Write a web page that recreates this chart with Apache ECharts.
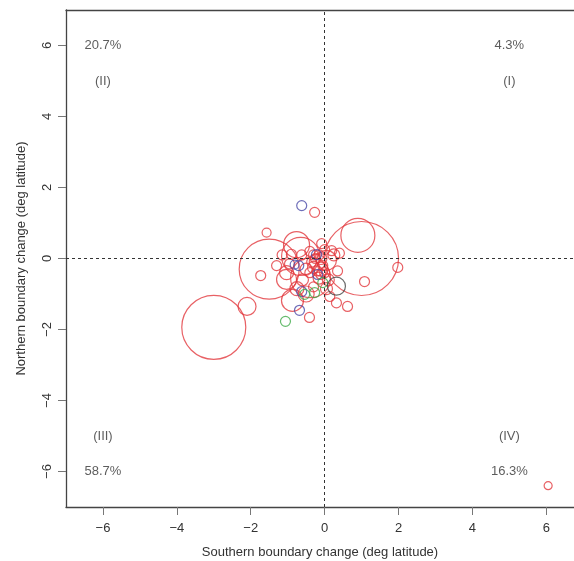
<!DOCTYPE html>
<html>
<head>
<meta charset="utf-8">
<script src="https://cdn.jsdelivr.net/npm/echarts@6/dist/echarts.min.js"></script>
<style>html,body{margin:0;padding:0;background:#fff;overflow:hidden}#c{width:574px;height:561px}</style>
</head>
<body>
<div id="c"></div>
<script>
// Data: [southern change, northern change, range weight]
const redPts = [
  [-3.0,-1.94,32],[-1.5,-0.3,30],[1.0,0.0,37],[0.9,0.65,17],[6.05,-6.4,4],
  [-0.27,1.3,5],[-1.57,0.73,4.5],[1.98,-0.25,5],[1.08,-0.65,5],[-1.73,-0.48,5],
  [-2.1,-1.35,9],[-0.41,-1.66,5],[0.62,-1.35,5],[0.32,-1.25,5],[0.14,-1.07,5],
  [-0.76,0.39,13],[-0.65,0.06,19],[-0.38,-0.54,20],[-0.87,-1.18,11],[-1.03,-0.59,10],
  [-1.03,-0.4,7],[-1.15,0.1,5],[-0.9,0.12,5],[-0.62,0.1,5],[-0.4,0.2,5],
  [0.19,0.22,5],[0.0,0.25,5],[-0.08,0.42,5],[0.05,-0.05,10],[0.35,-0.35,5],
  [0.25,0.1,6],[-0.2,-0.1,8],[-0.3,-0.25,6],[-0.1,-0.3,7],[-0.5,-0.3,6],
  [-0.15,-0.55,6],[0.1,-0.6,6],[-0.25,0.0,5],[-0.05,-0.2,5],[-0.35,-0.1,5],
  [-0.15,0.1,5],[-0.6,-0.6,6],[-0.75,-0.85,7],[-0.3,-0.8,5],[0.05,-0.85,6],
  [-0.5,-1.0,8],[-1.3,-0.2,5],[-0.95,-0.15,5],[0.4,0.15,5],[-0.1,-0.45,5],
  [-0.2,-0.35,5],[0.0,-0.4,5],[-0.4,-0.4,5],[-0.1,0.0,6],[-0.3,0.1,5]
];
const bluePts = [
  [-0.62,1.49,5],[-0.22,0.11,5],[-0.19,-0.45,5],[-0.7,-0.2,5],[-0.81,-0.17,4.5],
  [-0.62,-0.93,5],[-0.68,-1.46,5]
];
const greenPts = [
  [-1.06,-1.77,5],[-0.27,-0.96,5],[-0.54,-1.01,5],[-0.05,-0.68,5]
];
const blackPts = [
  [0.32,-0.78,9]
];
const tickValues = [-6,-4,-2,0,2,4,6];
const quadPos = [[-6,6],[-6,5],[5,6],[5,5],[-6,-5],[-6,-6],[5,-5],[5,-6]];
const quadText = ['20.7%','(II)','4.3%','(I)','(III)','58.7%','(IV)','16.3%'];

const FONT = 'Liberation Sans, Arial, sans-serif';
const sizeFn = v => 2 * v[2];
function bubble(data, color) {
  return {
    type: 'scatter', data: data, symbol: 'circle', symbolSize: sizeFn,
    itemStyle: { color: 'rgba(0,0,0,0)', borderColor: color, borderWidth: 1.2 },
    emphasis: { disabled: true }, silent: true, z: 3
  };
}
const fmt = v => String(v).replace('-', '\u2212');
const boxLine = { show: true, onZero: false, lineStyle: { color: '#444', width: 1.3 } };
const chart = echarts.init(document.getElementById('c'), null, { renderer: 'canvas' });
chart.setOption({
  animation: false,
  grid: { left: 66, top: 10, right: 0, bottom: 54, show: false, containLabel: false, outerBoundsMode: 'none' },
  xAxis: [{
    type: 'value', min: -7, max: 6.75, position: 'bottom',
    name: 'Southern boundary change (deg latitude)', nameLocation: 'middle', nameGap: 39,
    nameTextStyle: { fontFamily: FONT, fontSize: 13, color: '#333' },
    axisLine: boxLine,
    axisTick: { show: true, length: 8, customValues: tickValues, lineStyle: { color: '#777' } },
    axisLabel: { customValues: tickValues, margin: 15, fontFamily: FONT, fontSize: 13, color: '#333', formatter: fmt },
    splitLine: { show: false }
  }, {
    type: 'value', min: -7, max: 6.75, position: 'top',
    axisLine: boxLine,
    axisTick: { show: false }, axisLabel: { show: false }, splitLine: { show: false }
  }],
  yAxis: {
    type: 'value', min: -7, max: 7,
    name: 'Northern boundary change (deg latitude)', nameLocation: 'middle', nameGap: 38,
    nameTextStyle: { fontFamily: FONT, fontSize: 13, color: '#333' },
    axisLine: boxLine,
    axisTick: { show: true, length: 8, customValues: tickValues, lineStyle: { color: '#777' } },
    axisLabel: { customValues: tickValues, rotate: 90, margin: 12, fontFamily: FONT, fontSize: 13, color: '#333', formatter: fmt },
    splitLine: { show: false }
  },
  series: [
    {
      type: 'scatter', data: quadPos.map((p, i) => ({ value: p, name: quadText[i] })),
      symbolSize: 1, itemStyle: { color: 'rgba(0,0,0,0)' }, silent: true, z: 2,
      label: { show: true, position: 'inside', formatter: p => p.name, fontFamily: FONT, fontSize: 13, color: '#333' },
      markLine: {
        silent: true, symbol: 'none', label: { show: false },
        lineStyle: { color: '#333', type: [3, 3], width: 1 },
        data: [{ xAxis: 0 }, { yAxis: 0 }]
      }
    },
    bubble(redPts, '#e2393f'),
    bubble(bluePts, '#4a4aa8'),
    bubble(greenPts, '#3faa48'),
    bubble(blackPts, '#444444')
  ]
});
</script>
</body>
</html>
